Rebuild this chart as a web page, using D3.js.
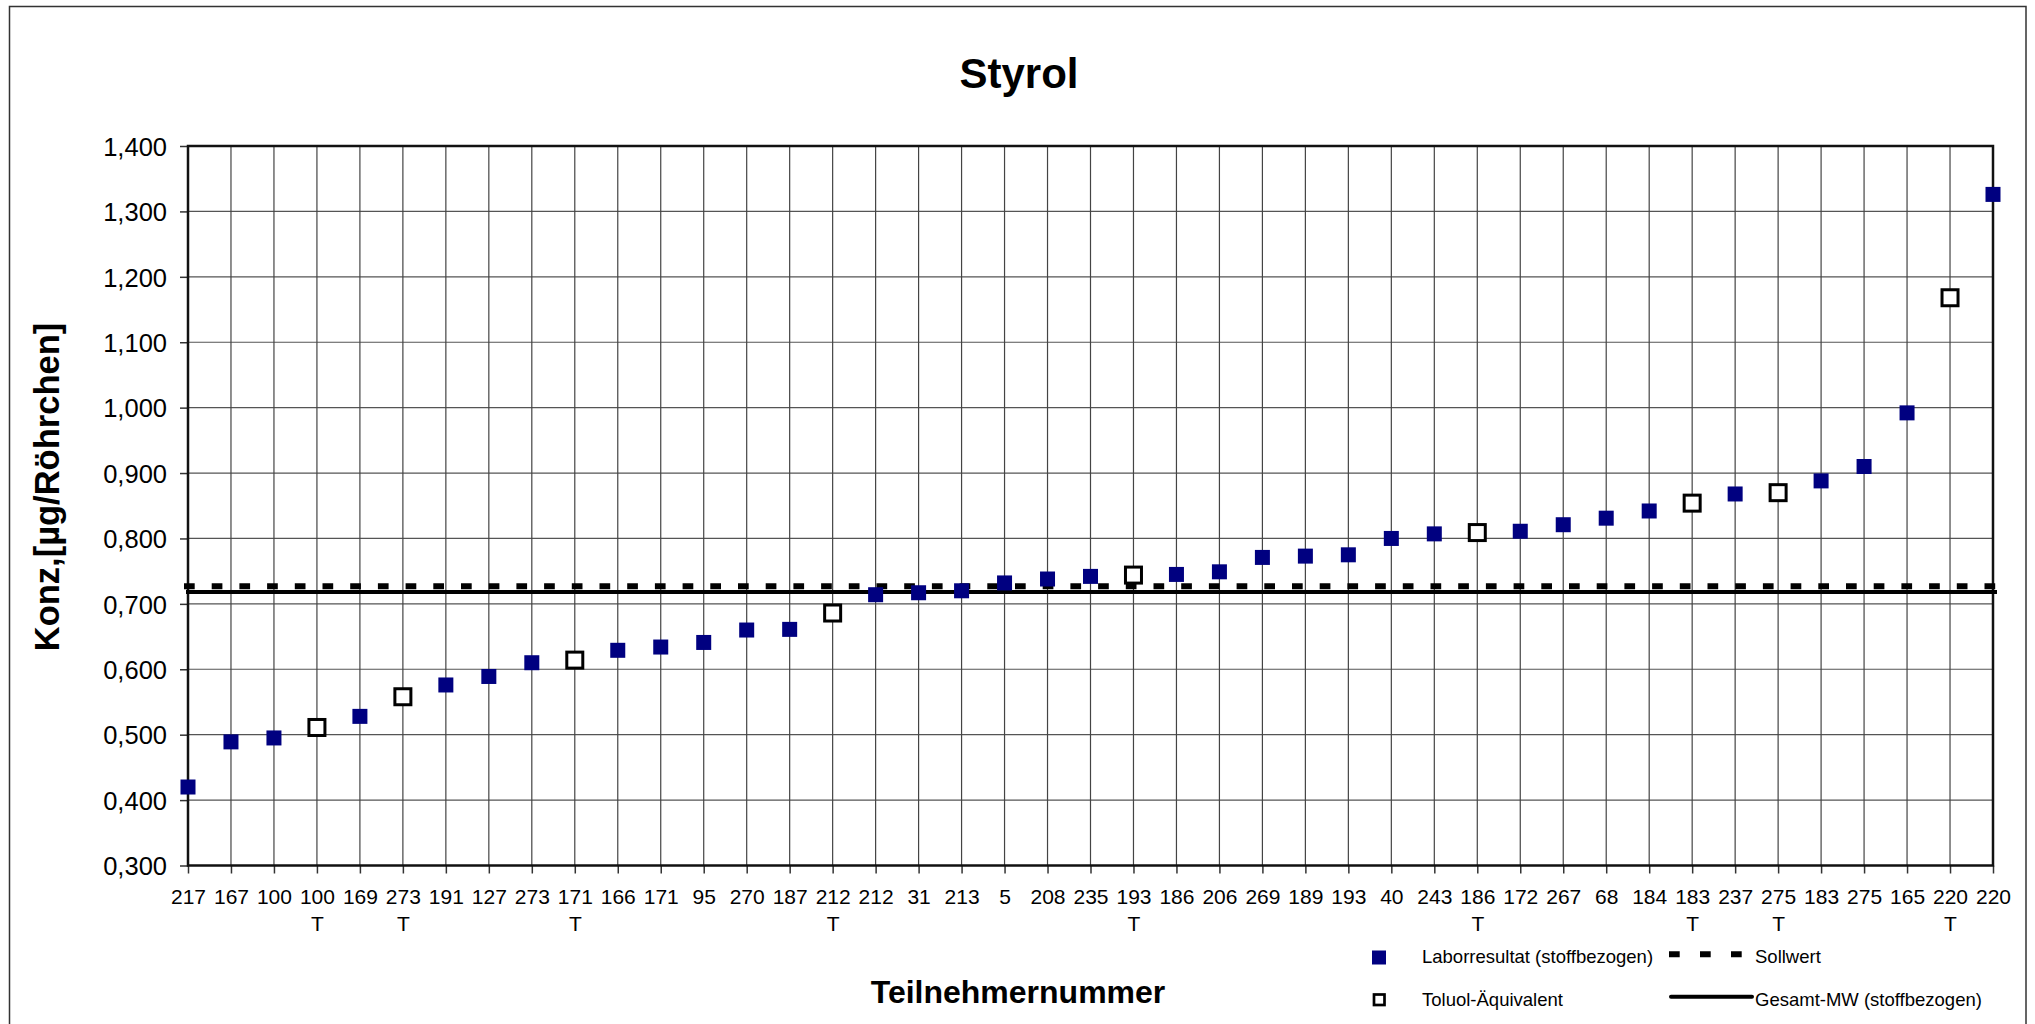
<!DOCTYPE html>
<html>
<head>
<meta charset="utf-8">
<title>Styrol</title>
<script src="https://cdn.jsdelivr.net/npm/d3@7"></script>
<style>
  body { margin: 0; background: #ffffff; }
  svg { display: block; font-family: "Liberation Sans", Arial, sans-serif; }
</style>
</head>
<body>
<div class="chart"></div>
<script>

//Width and height of the whole picture
var widthSVG = 2035;
var heightSVG = 1024;

//plot area (inside the grey frame)
var plotLeft = 188;
var plotRight = 1993;
var plotTop = 146;
var plotBottom = 865.5;

//participant numbers along the x axis
var teilnehmer = [217, 167, 100, 100, 169, 273, 191, 127, 273, 171, 166, 171, 95, 270, 187,
                  212, 212, 31, 213, 5, 208, 235, 193, 186, 206, 269, 189, 193, 40, 243,
                  186, 172, 267, 68, 184, 183, 237, 275, 183, 275, 165, 220, 220];
//1 = Toluol-Aequivalent (open square, "T" under the number)
var toluol = [0, 0, 0, 1, 0, 1, 0, 0, 0, 1, 0, 0, 0, 0, 0,
              1, 0, 0, 0, 0, 0, 0, 1, 0, 0, 0, 0, 0, 0, 0,
              1, 0, 0, 0, 0, 1, 0, 1, 0, 0, 0, 1, 0];
//concentration per participant [µg/Röhrchen]
var konz = [0.420, 0.489, 0.495, 0.511, 0.528, 0.558, 0.576, 0.589, 0.610, 0.614, 0.629, 0.634, 0.641, 0.660, 0.661,
            0.686, 0.714, 0.717, 0.720, 0.732, 0.738, 0.742, 0.744, 0.745, 0.749, 0.771, 0.773, 0.775, 0.800, 0.807,
            0.809, 0.811, 0.821, 0.831, 0.842, 0.854, 0.868, 0.870, 0.888, 0.910, 0.992, 1.168, 1.326];

var sollwert = 0.727;
var gesamtMW = 0.718;

var yTicks = [0.3, 0.4, 0.5, 0.6, 0.7, 0.8, 0.9, 1.0, 1.1, 1.2, 1.3, 1.4];

var navy = "#000080";

//german number format 0,700
var deLocale = d3.formatLocale({decimal: ",", thousands: ".", grouping: [3], currency: ["", ""]});
var fmt = deLocale.format(".3f");

var dataset = teilnehmer.map(function(d, i) {
	return { idx: i, nr: d, t: toluol[i], value: konz[i] };
});

//Create scale functions
var xScale = d3.scalePoint()
			   .domain(d3.range(teilnehmer.length))
			   .range([plotLeft, plotRight]);

var yScale = d3.scaleLinear()
			   .domain([0.3, 1.4])
			   .range([plotBottom, plotTop]);

//Create SVG element
var svg = d3.select(".chart")
			.append("svg")
			.attr("width", widthSVG)
			.attr("height", heightSVG);

svg.append("rect")
	.attr("width", widthSVG)
	.attr("height", heightSVG)
	.attr("fill", "#ffffff");

//outer frame
svg.append("rect")
	.attr("x", 9.5)
	.attr("y", 6.5)
	.attr("width", 2026 - 9.5)
	.attr("height", 1030)
	.attr("fill", "none")
	.attr("stroke", "#333333")
	.attr("stroke-width", 1.5);

//grid - horizontal
svg.append("g")
	.selectAll("line")
	.data(yTicks)
	.enter()
	.append("line")
	.attr("x1", plotLeft)
	.attr("x2", plotRight)
	.attr("y1", function(d) { return yScale(d); })
	.attr("y2", function(d) { return yScale(d); })
	.attr("stroke", "#555555")
	.attr("stroke-width", 1.2);

//grid - vertical, one per participant
svg.append("g")
	.selectAll("line")
	.data(dataset)
	.enter()
	.append("line")
	.attr("x1", function(d) { return xScale(d.idx); })
	.attr("x2", function(d) { return xScale(d.idx); })
	.attr("y1", plotTop)
	.attr("y2", plotBottom)
	.attr("stroke", "#444444")
	.attr("stroke-width", 1.2);

//y axis
var y_axis = d3.axisLeft(yScale)
			   .tickValues(yTicks)
			   .tickSize(8)
			   .tickPadding(13)
			   .tickFormat(fmt);

var gy = svg.append("g")
	.attr("class", "coord y")
	.attr("transform", "translate(" + plotLeft + ",0)")
	.call(y_axis);
gy.select(".domain").remove();
gy.selectAll("line").attr("stroke", "#333333").attr("stroke-width", 1.5);
gy.selectAll("text")
	.attr("dy", "0.36em")
	.style("font-size", "25.5px")
	.attr("fill", "#000000");

//x axis - participant number and a T for the toluol values
var x_axis = d3.axisBottom(xScale)
			   .tickSize(8)
			   .tickPadding(16)
			   .tickFormat(function(i) { return teilnehmer[i]; });

var gx = svg.append("g")
	.attr("class", "coord x")
	.attr("transform", "translate(0," + plotBottom + ")")
	.call(x_axis);
gx.select(".domain").remove();
gx.selectAll("line").attr("stroke", "#333333").attr("stroke-width", 1.5);
gx.selectAll("text")
	.style("font-size", "21px")
	.attr("fill", "#000000")
	.each(function(i) {
		if (toluol[i] === 1) {
			d3.select(this).append("tspan")
				.attr("x", 0)
				.attr("dy", 26.4)
				.text("T");
		}
	});

//frame of the plot area
svg.append("rect")
	.attr("x", plotLeft)
	.attr("y", plotTop)
	.attr("width", plotRight - plotLeft)
	.attr("height", plotBottom - plotTop)
	.attr("fill", "none")
	.attr("stroke", "#111111")
	.attr("stroke-width", 2.5);

//Sollwert (dashed) and Gesamt-MW (solid)
svg.append("line")
	.attr("class", "sollwert")
	.attr("x1", plotLeft - 4)
	.attr("x2", plotRight + 4)
	.attr("y1", yScale(sollwert))
	.attr("y2", yScale(sollwert))
	.attr("stroke", "#000000")
	.attr("stroke-width", 6)
	.attr("stroke-dasharray", "10.7,17");

svg.append("line")
	.attr("class", "gesamt")
	.attr("x1", plotLeft - 2)
	.attr("x2", plotRight + 4)
	.attr("y1", yScale(gesamtMW))
	.attr("y2", yScale(gesamtMW))
	.attr("stroke", "#000000")
	.attr("stroke-width", 4);

//markers - filled for lab result, open for toluol equivalent
svg.append("g")
	.selectAll("rect")
	.data(dataset.filter(function(d) { return d.t === 0; }))
	.enter()
	.append("rect")
	.attr("x", function(d) { return xScale(d.idx) - 7.5; })
	.attr("y", function(d) { return yScale(d.value) - 7.5; })
	.attr("width", 15)
	.attr("height", 15)
	.attr("fill", navy);

svg.append("g")
	.selectAll("rect")
	.data(dataset.filter(function(d) { return d.t === 1; }))
	.enter()
	.append("rect")
	.attr("x", function(d) { return xScale(d.idx) - 8; })
	.attr("y", function(d) { return yScale(d.value) - 8; })
	.attr("width", 16)
	.attr("height", 16)
	.attr("fill", "#ffffff")
	.attr("stroke", "#000000")
	.attr("stroke-width", 3);

//Title
svg.append("text")
	.attr("x", 1019)
	.attr("y", 88)
	.attr("text-anchor", "middle")
	.style("font-size", "42px")
	.style("font-weight", "bold")
	.text("Styrol");

// text label for the x axis
svg.append("text")
	.attr("x", 1018)
	.attr("y", 1003)
	.attr("text-anchor", "middle")
	.style("font-size", "32px")
	.style("font-weight", "bold")
	.text("Teilnehmernummer");

// text label for the y axis
svg.append("text")
	.attr("text-anchor", "middle")
	.attr("transform", "translate(59,487) rotate(-90)")
	.style("font-size", "34.5px")
	.style("font-weight", "bold")
	.text("Konz,[µg/Röhrchen]");

//Legend
var legenda = svg.append("g").attr("class", "legenda");

legenda.append("rect")
	.attr("x", 1372)
	.attr("y", 950.5)
	.attr("width", 14)
	.attr("height", 14)
	.attr("fill", navy);
legenda.append("text")
	.attr("x", 1422)
	.attr("y", 963.3)
	.style("font-size", "18.5px")
	.text("Laborresultat (stoffbezogen)");

legenda.append("line")
	.attr("x1", 1669)
	.attr("x2", 1744)
	.attr("y1", 954.3)
	.attr("y2", 954.3)
	.attr("stroke", "#000000")
	.attr("stroke-width", 6)
	.attr("stroke-dasharray", "10.7,20.3");
legenda.append("text")
	.attr("x", 1755)
	.attr("y", 963.3)
	.style("font-size", "18.5px")
	.text("Sollwert");

legenda.append("rect")
	.attr("x", 1374)
	.attr("y", 994.5)
	.attr("width", 10.5)
	.attr("height", 10.5)
	.attr("fill", "#ffffff")
	.attr("stroke", "#000000")
	.attr("stroke-width", 2.7);
legenda.append("text")
	.attr("x", 1422)
	.attr("y", 1006)
	.style("font-size", "18.5px")
	.text("Toluol-Äquivalent");

legenda.append("line")
	.attr("x1", 1671)
	.attr("x2", 1752)
	.attr("y1", 996.7)
	.attr("y2", 996.7)
	.attr("stroke", "#000000")
	.attr("stroke-width", 4)
	.attr("stroke-linecap", "round");
legenda.append("text")
	.attr("x", 1755)
	.attr("y", 1006)
	.style("font-size", "18.5px")
	.text("Gesamt-MW (stoffbezogen)");

</script>
</body>
</html>
